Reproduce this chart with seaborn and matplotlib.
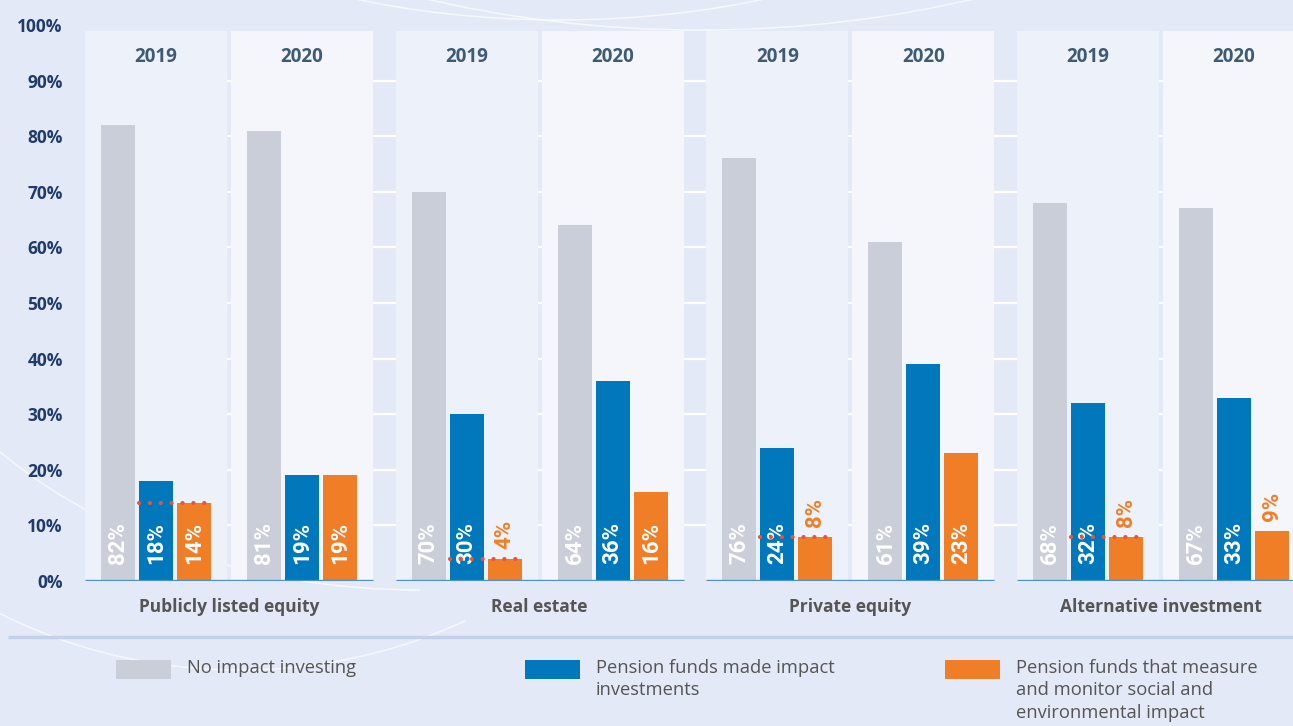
import matplotlib
matplotlib.use("Agg")
import matplotlib.pyplot as plt
from matplotlib.patches import Rectangle, Arc
import numpy as np
import pandas as pd
import seaborn as sns

# ---- data -------------------------------------------------------------
categories = ["Publicly listed equity", "Real estate", "Private equity", "Alternative investment"]
years = ["2019", "2020"]
series = ["No impact investing", "Made impact investments", "Measure and monitor impact"]
legend_labels = [
    "No impact investing",
    "Pension funds made impact\ninvestments",
    "Pension funds that measure\nand monitor social and\nenvironmental impact",
]
# values per (category, year), in the order cat0-2019, cat0-2020, cat1-2019, ...
no_impact = [82, 81, 70, 64, 76, 61, 68, 67]
made_impact = [18, 19, 30, 36, 24, 39, 32, 33]
measure_monitor = [14, 19, 4, 16, 8, 23, 8, 9]
y_ticks = [0, 10, 20, 30, 40, 50, 60, 70, 80, 90, 100]

# ---- style ------------------------------------------------------------
BG = "#e3e9f6"
PANEL = {"2019": "#edf1fa", "2020": "#f4f6fb"}
COLORS = {series[0]: "#c9ced8", series[1]: "#0078bb", series[2]: "#f07e27"}
NAVY = "#1f3b6c"
YEAR_C = "#3e5b76"
GREY_TXT = "#555555"
BASE_C = "#4d8dd3"
DOT_C = "#e8553f"

sns.set_theme(style="white")
plt.rcParams["font.family"] = ["Open Sans", "DejaVu Sans"]
VALUE_FONT = ["Roboto", "DejaVu Sans"]

GROUP_STEP = 2.128   # spacing between categories, in year-slot units
PANEL_W = 0.973

rows = []
for gi, cat in enumerate(categories):
    for yi, yr in enumerate(years):
        k = gi * 2 + yi
        pos = gi * GROUP_STEP + yi
        for s, vals in zip(series, [no_impact, made_impact, measure_monitor]):
            rows.append({"category": cat, "year": yr, "pos": pos, "series": s, "value": vals[k]})
df = pd.DataFrame(rows)

fig = plt.figure(figsize=(12.93, 7.26), dpi=100, facecolor=BG)

# background decoration layer, in pixel coordinates
bg = fig.add_axes([0, 0, 1, 1], zorder=0)
bg.set_xlim(0, 1293)
bg.set_ylim(726, 0)
bg.axis("off")
arc_kw = dict(color="white", lw=1.1, alpha=0.7)
bg.add_patch(Arc((560, -300), 1150, 640, theta1=0, theta2=360, **arc_kw))
bg.add_patch(Arc((700, -420), 1500, 900, theta1=0, theta2=360, **arc_kw))
bg.add_patch(Arc((240, 230), 980, 880, theta1=60, theta2=200, **arc_kw))
bg.add_patch(Arc((420, 200), 1100, 780, theta1=90, theta2=190, **arc_kw))
# separator between chart and legend
bg.plot([8, 1293], [637, 637], color="#c3d2ec", lw=2.5, solid_capstyle="butt")

# legend drawn as swatches with wrapped labels
legend_x = [116, 525, 945]
for lx, s, lab in zip(legend_x, series, legend_labels):
    bg.add_patch(Rectangle((lx, 660), 55, 19, color=COLORS[s], lw=0))
    bg.text(lx + 71, 659, lab, ha="left", va="top", fontsize=13.2,
            color=GREY_TXT, linespacing=1.32)

# ---- main chart -------------------------------------------------------
ax = fig.add_axes([85 / 1293, 145 / 726, 1208 / 1293, 556 / 726], zorder=1)
ax.patch.set_alpha(0)

sns.barplot(data=df, x="pos", y="value", hue="series", hue_order=series,
            palette=COLORS, native_scale=True, width=0.78, gap=0.1,
            errorbar=None, saturation=1, legend=False, linewidth=0,
            zorder=3, ax=ax)

ax.set_xlim((85 - 156) / 146, (1293 - 156) / 146)
ax.set_ylim(0, 100)

# panels behind each year's bars
for gi in range(len(categories)):
    for yi, yr in enumerate(years):
        pos = gi * GROUP_STEP + yi
        ax.add_patch(Rectangle((pos - PANEL_W / 2, 0), PANEL_W, 99.0,
                               color=PANEL[yr], lw=0, zorder=1))
        ax.text(pos, 94.2, yr, ha="center", va="center", fontsize=13.5,
                fontweight="bold", color=YEAR_C, zorder=4)
    left = gi * GROUP_STEP - PANEL_W / 2
    right = gi * GROUP_STEP + 1 + PANEL_W / 2
    ax.hlines(0, left, right, color=BASE_C, lw=2.4, zorder=5)
    ax.text(gi * GROUP_STEP + 0.5, -4.7, categories[gi], ha="center", va="center",
            fontsize=12.5, fontweight="bold", color=GREY_TXT, clip_on=False)

# white gridlines, visible in the gaps between panels
for t in y_ticks[1:-1]:
    ax.axhline(t, color="white", lw=1.6, zorder=0.5)

# value labels
for ci, cont in enumerate(ax.containers):
    for bar in cont:
        h = bar.get_height()
        xc = bar.get_x() + bar.get_width() / 2
        if h >= 10:
            ax.text(xc, 3.0, f"{h:.0f}%", rotation=90, ha="center", va="bottom",
                    fontsize=16, fontweight="bold", family=VALUE_FONT,
                    color="white", zorder=6)
        else:
            ax.text(xc, h + 1.8, f"{h:.0f}%", rotation=90, ha="center", va="bottom",
                    fontsize=16, fontweight="bold", family=VALUE_FONT,
                    color=COLORS[series[ci]], zorder=6)

# dotted reference at the 2019 "measure and monitor" level
blue_bars = list(ax.containers[1])
orange_bars = list(ax.containers[2])
for b_bar, o_bar in zip(blue_bars, orange_bars):
    xc = b_bar.get_x() + b_bar.get_width() / 2
    slot = xc - round(xc / GROUP_STEP) * GROUP_STEP
    if abs(slot) < 0.5:  # 2019 slot
        ax.hlines(o_bar.get_height(), b_bar.get_x(), o_bar.get_x() + o_bar.get_width(),
                  color=DOT_C, lw=3.0, linestyles=(0, (0.01, 2.6)),
                  capstyle="round", zorder=7)

ax.set_yticks(y_ticks)
ax.set_yticklabels([f"{t}%" for t in y_ticks], fontsize=12.5, fontweight="bold", color=NAVY)
ax.set_xticks([])
ax.tick_params(axis="y", length=0, pad=16)
ax.set_xlabel("")
ax.set_ylabel("")
for sp in ax.spines.values():
    sp.set_visible(False)

fig.savefig("out.png", dpi=100, facecolor=BG)
